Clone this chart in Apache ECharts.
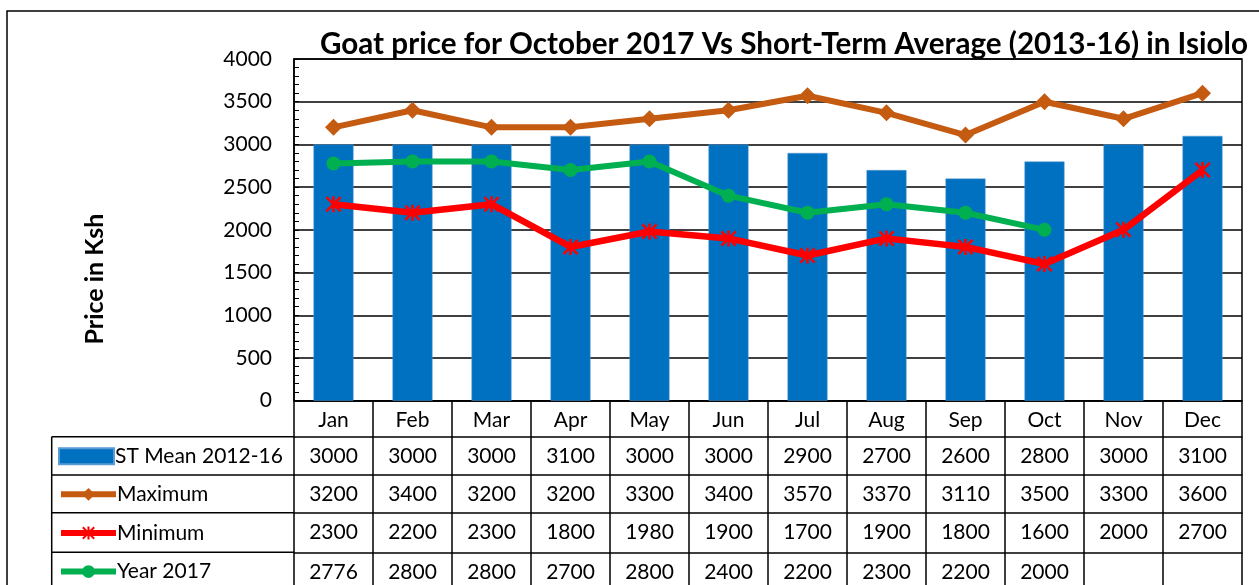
<!DOCTYPE html>
<html>
<head>
<meta charset="utf-8">
<script src="https://cdn.jsdelivr.net/npm/echarts@6/dist/echarts.min.js"></script>
<style>
  html, body { margin: 0; padding: 0; background: #fff; }
  #main { width: 1259px; height: 585px; }
</style>
</head>
<body>
<div id="main"></div>
<script>
// data
var months = ['Jan', 'Feb', 'Mar', 'Apr', 'May', 'Jun', 'Jul', 'Aug', 'Sep', 'Oct', 'Nov', 'Dec'];
var stMean = [3000, 3000, 3000, 3100, 3000, 3000, 2900, 2700, 2600, 2800, 3000, 3100];
var maximum = [3200, 3400, 3200, 3200, 3300, 3400, 3570, 3370, 3110, 3500, 3300, 3600];
var minimum = [2300, 2200, 2300, 1800, 1980, 1900, 1700, 1900, 1800, 1600, 2000, 2700];
var year2017 = [2776, 2800, 2800, 2700, 2800, 2400, 2200, 2300, 2200, 2000, null, null];
var seriesNames = ['ST Mean 2012-16', 'Maximum', 'Minimum', 'Year 2017'];
var seriesColors = ['#0070C0', '#C55A11', '#FF0000', '#00B050'];

var FONT = 'Lato';
var axisY = 400.7;                       // bottom of the plot
var rowLines = [436.7, 475, 512.7, 552.3]; // top line of each table row
var tableLeft = 51.7;
var plotLeft = 294;

// asterisk marker for the minimum series
var starPath = 'path://M4.2,0L5.8,0L5.8,10L4.2,10Z M0,1.1L1.1,0L10,8.9L8.9,10Z M8.9,0L10,1.1L1.1,10L0,8.9Z';

var myChart = echarts.init(document.getElementById('main'));

// one extra category axis per table row, its labels are the values
function tableAxis(values, i) {
  var next = i < rowLines.length - 1 ? rowLines[i + 1] : 592;
  return {
    type: 'category',
    gridIndex: 0,
    position: 'bottom',
    offset: rowLines[i] - axisY,
    data: values.map(function (v) { return v == null ? '' : String(v); }),
    axisLine: { lineStyle: { color: '#000', width: 1.5 } },
    axisTick: { show: true, interval: 0, length: next - rowLines[i], lineStyle: { color: '#000', width: 1.5 } },
    axisLabel: { interval: 0, margin: 9, fontSize: 21, lineHeight: 21, color: '#000', fontFamily: FONT },
    splitLine: { show: false }
  };
}

var rowValues = [stMean, maximum, minimum, year2017];
var xAxes = [{
  type: 'category',
  gridIndex: 0,
  data: months,
  axisLine: { lineStyle: { color: '#000', width: 1.5 } },
  axisTick: { show: true, interval: 0, length: rowLines[0] - axisY, lineStyle: { color: '#000', width: 1.5 } },
  axisLabel: { interval: 0, margin: 9, fontSize: 21, lineHeight: 21, color: '#000', fontFamily: FONT }
}];
for (var i = 0; i < rowValues.length; i++) {
  xAxes.push(tableAxis(rowValues[i], i));
}

// legend entries sit in the left column of the table
var legends = [];
for (var j = 0; j < seriesNames.length; j++) {
  var bottomLine = j < rowLines.length - 1 ? rowLines[j + 1] : 589.8;
  var center = (rowLines[j] + bottomLine) / 2;
  var lg = {
    data: [seriesNames[j]],
    left: 58,
    top: center - 10,
    padding: 0,
    itemWidth: 55,
    itemHeight: 16,
    selectedMode: false,
    lineStyle: { width: 6 },
    textStyle: { fontSize: 21, lineHeight: 21, color: '#000', fontFamily: FONT, padding: [0, 0, 0, -4] }
  };
  if (j === 0) lg.icon = 'rect';
  legends.push(lg);
}

var graphics = [
  { type: 'rect', shape: { x: 7, y: 11, width: 1300, height: 620 }, style: { fill: 'none', stroke: '#000', lineWidth: 1.5 }, silent: true },
  { type: 'line', shape: { x1: tableLeft, y1: rowLines[0], x2: tableLeft, y2: 590 }, style: { stroke: '#000', lineWidth: 1.5 } },
  {
    type: 'text', x: 95, y: 279, rotation: Math.PI / 2,
    style: { text: 'Price in Ksh', fontSize: 25, fontWeight: 'bold', fontFamily: FONT, fill: '#000', align: 'center', verticalAlign: 'middle' }
  }
];
rowLines.forEach(function (y) {
  graphics.push({ type: 'line', shape: { x1: tableLeft, y1: y, x2: plotLeft, y2: y }, style: { stroke: '#000', lineWidth: 1.5 } });
});

var option = {
  animation: false,
  title: {
    text: 'Goat price for October 2017 Vs Short-Term Average (2013-16) in Isiolo',
    left: 320,
    top: 29,
    padding: 0,
    textStyle: { fontSize: 29.6, fontWeight: 'bold', color: '#000', fontFamily: FONT }
  },
  legend: legends,
  graphic: graphics,
  grid: {
    left: plotLeft,
    right: 17,
    top: 59,
    bottom: 585 - axisY,
    show: true,
    borderColor: '#000',
    borderWidth: 1.5
  },
  xAxis: xAxes,
  yAxis: {
    type: 'value',
    min: 0,
    max: 4000,
    interval: 500,
    axisLine: { show: true, lineStyle: { color: '#000', width: 1.5 } },
    axisTick: { show: true, inside: true, length: 5, lineStyle: { color: '#000' } },
    minorTick: { show: true, splitNumber: 5, length: 5, lineStyle: { color: '#000' } },
    axisLabel: { margin: 22, fontSize: 21, color: '#000', fontFamily: FONT, formatter: function (v) { return String(v); } },
    splitLine: { lineStyle: { color: '#000', width: 1.5 } }
  },
  series: [
    {
      name: seriesNames[0],
      type: 'bar',
      data: stMean,
      barWidth: 40,
      itemStyle: { color: seriesColors[0], borderColor: '#5B9BD5', borderWidth: 0.5 }
    },
    {
      name: seriesNames[1],
      type: 'line',
      data: maximum,
      symbol: 'diamond',
      symbolSize: [17, 17],
      itemStyle: { color: seriesColors[1] },
      lineStyle: { color: seriesColors[1], width: 6 },
      z: 3
    },
    {
      name: seriesNames[2],
      type: 'line',
      data: minimum,
      symbol: starPath,
      symbolSize: 16,
      itemStyle: { color: seriesColors[2] },
      lineStyle: { color: seriesColors[2], width: 6.5 },
      z: 3
    },
    {
      name: seriesNames[3],
      type: 'line',
      data: year2017,
      symbol: 'circle',
      symbolSize: 14,
      itemStyle: { color: seriesColors[3] },
      lineStyle: { color: seriesColors[3], width: 6 },
      z: 4
    }
  ]
};

myChart.setOption(option);
</script>
</body>
</html>
